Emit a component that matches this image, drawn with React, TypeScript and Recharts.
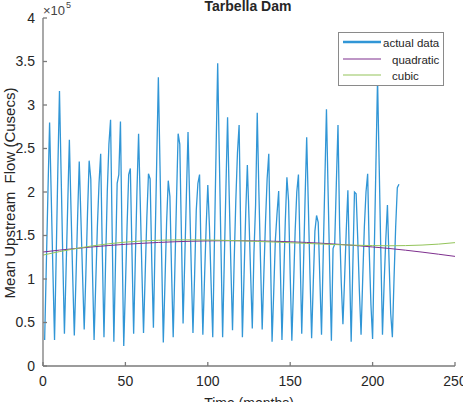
import { LineChart, Line, XAxis, YAxis, Legend } from "recharts"

// mean upstream flow, x10^5 cusecs, months 1..216
const flow = [
  0.30, 1.15, 2.00, 2.80, 1.95, 1.10,
  0.30, 1.25, 2.25, 3.16, 2.20, 1.25,
  0.37, 1.10, 1.85, 2.60, 1.80, 1.05,
  0.35, 1.00, 1.70, 2.35, 1.70, 1.05,
  0.42, 1.05, 1.75, 2.36, 2.15, 1.10,
  0.30, 0.95, 1.60, 2.10, 2.44, 1.30,
  0.33, 1.20, 2.00, 2.55, 2.83, 1.50,
  0.28, 1.20, 2.10, 2.20, 2.81, 1.40,
  0.23, 0.90, 1.60, 2.20, 2.27, 1.30,
  0.37, 1.20, 2.00, 2.67, 1.90, 1.10,
  0.38, 1.05, 1.70, 2.21, 2.15, 1.20,
  0.44, 1.40, 2.35, 3.32, 2.30, 1.25,
  0.27, 0.95, 1.65, 2.13, 1.95, 1.10,
  0.33, 1.10, 1.90, 2.67, 2.55, 1.50,
  0.49, 1.20, 1.95, 2.69, 1.90, 1.10,
  0.38, 1.05, 1.79, 2.10, 2.20, 1.20,
  0.36, 1.00, 1.60, 2.08, 1.60, 0.95,
  0.33, 1.40, 2.45, 3.48, 2.40, 1.35,
  0.33, 1.20, 2.05, 2.86, 1.95, 1.15,
  0.41, 1.20, 1.90, 2.45, 2.77, 1.50,
  0.33, 1.05, 1.75, 2.31, 1.70, 1.05,
  0.43, 1.30, 1.85, 2.91, 2.00, 1.20,
  0.42, 1.05, 1.65, 2.15, 2.44, 1.30,
  0.28, 0.85, 1.45, 1.75, 2.01, 1.15,
  0.30, 0.95, 1.65, 2.17, 1.90, 1.05,
  0.29, 0.90, 1.55, 2.00, 2.20, 1.30,
  0.37, 1.10, 1.90, 2.63, 1.85, 1.05,
  0.32, 0.95, 1.55, 1.73, 1.65, 1.00,
  0.36, 1.25, 2.10, 2.95, 2.00, 1.10,
  0.29, 1.35, 1.40, 2.10, 2.77, 1.60,
  0.95, 0.48, 1.00, 1.55, 2.02, 1.15,
  0.28, 1.15, 2.00, 1.98, 1.45, 0.85,
  0.36, 1.00, 1.60, 2.00, 2.21, 1.30,
  0.70, 0.31, 1.30, 2.30, 3.30, 2.30,
  1.30, 0.36, 0.95, 1.45, 1.85, 1.20,
  0.60, 0.33, 1.00, 1.60, 2.05, 2.09,
]

const fitMonths = [0, 10, 20, 30, 40, 50, 60, 70, 80, 90, 100, 110, 120, 130, 140, 150, 160, 170, 180, 190, 200, 210, 220, 230, 240, 250]
const quadratic = [1.310, 1.332, 1.351, 1.369, 1.385, 1.399, 1.410, 1.420, 1.428, 1.434, 1.438, 1.440, 1.440, 1.438, 1.434, 1.428, 1.420, 1.410, 1.398, 1.384, 1.368, 1.351, 1.331, 1.309, 1.285, 1.260]
const cubic = [1.275, 1.315, 1.350, 1.381, 1.405, 1.424, 1.437, 1.445, 1.449, 1.450, 1.448, 1.444, 1.439, 1.432, 1.425, 1.417, 1.409, 1.401, 1.394, 1.388, 1.384, 1.382, 1.384, 1.390, 1.401, 1.418]

const seriesNames = ["actual data", "quadratic", "cubic"]
const xTicks = [0, 50, 100, 150, 200, 250]
const yTicks = [0, 0.5, 1, 1.5, 2, 2.5, 3, 3.5, 4]

const actualData = flow.map((v, i) => ({ month: i + 1, value: v }))
const quadData = fitMonths.map((m, i) => ({ month: m, value: quadratic[i] }))
const cubicData = fitMonths.map((m, i) => ({ month: m, value: cubic[i] }))

const axisColor = "#7a7a7a"
const textColor = "#262626"
const tickFont = { fill: textColor, fontSize: 14, fontFamily: "'Liberation Sans Narrow', 'Arial Narrow', Arial, sans-serif" }

function LegendBox({ payload }: any) {
  // keep the plotting order, not the alphabetical one
  const items = [...(payload || [])].sort((a: any, b: any) => seriesNames.indexOf(a.value) - seriesNames.indexOf(b.value))
  return (
    <div
      style={{
        width: 104,
        height: 50,
        paddingTop: 2,
        border: "1px solid #8a8a8a",
        background: "#fff",
        fontFamily: "Arial, 'Liberation Sans', sans-serif",
        fontSize: 11.5,
        color: textColor,
      }}
    >
      {items.map((e: any) => (
        <div key={e.value} style={{ display: "flex", alignItems: "center", height: 16.5 }}>
          <svg width={44} height={8} style={{ flex: "none" }}>
            <line x1={4} x2={42} y1={3} y2={3} stroke={e.color} strokeWidth={e.value === "actual data" ? 2.5 : 1.2} />
          </svg>
          <span style={{ marginLeft: e.value === "actual data" ? 0 : 9, whiteSpace: "pre" }}>{e.value}</span>
        </div>
      ))}
    </div>
  )
}

export default function App() {
  return (
    <div style={{ position: "absolute", left: 0, top: 0, width: 463, height: 402, background: "#fff", overflow: "hidden" }}>
      <LineChart width={463} height={402} margin={{ top: 18, right: 8, bottom: 6, left: 0 }}>
        <XAxis
          dataKey="month"
          type="number"
          domain={[0, 250]}
          ticks={xTicks}
          interval={0}
          height={30}
          stroke={axisColor}
          strokeWidth={1.3}
          tickSize={-4}
          tickMargin={14}
          tick={tickFont}
          allowDataOverflow
        />
        <XAxis
          xAxisId="top"
          orientation="top"
          type="number"
          domain={[0, 250]}
          ticks={xTicks}
          interval={0}
          height={0}
          stroke={axisColor}
          strokeWidth={1.3}
          tickSize={-4}
          tick={false}
        />
        <YAxis
          type="number"
          domain={[0, 4]}
          ticks={yTicks}
          interval={0}
          width={43}
          stroke={axisColor}
          strokeWidth={1.3}
          tickSize={-4}
          tickMargin={12}
          tick={tickFont}
          allowDataOverflow
        />
        <YAxis
          yAxisId="right"
          orientation="right"
          type="number"
          domain={[0, 4]}
          ticks={yTicks}
          interval={0}
          width={0}
          stroke={axisColor}
          strokeWidth={1.3}
          tickSize={-4}
          tick={false}
        />
        <Legend
          layout="horizontal"
          verticalAlign="middle"
          align="center"
          content={<LegendBox />}
          wrapperStyle={{ top: 32, left: 338, width: 106, height: 53 }}
        />
        <Line
          data={actualData}
          dataKey="value"
          name="actual data"
          type="linear"
          stroke="#3196d6"
          strokeWidth={1.3}
          dot={false}
          isAnimationActive={false}
        />
        <Line
          data={quadData}
          dataKey="value"
          name="quadratic"
          type="linear"
          stroke="#7e2f8e"
          strokeWidth={1}
          dot={false}
          isAnimationActive={false}
        />
        <Line
          data={cubicData}
          dataKey="value"
          name="cubic"
          type="linear"
          stroke="#93c45a"
          strokeWidth={1}
          dot={false}
          isAnimationActive={false}
        />
      </LineChart>
      <svg width={463} height={402} style={{ position: "absolute", left: 0, top: 0, pointerEvents: "none" }}>
        <text x={248} y={11} textAnchor="middle" fontFamily="Arial, sans-serif" fontWeight="bold" fontSize={14} fill={textColor}>
          Tarbella Dam
        </text>
        <text x={43} y={15} fontFamily="Arial, sans-serif" fontSize={13} fill="#444">
          ×10
        </text>
        <text x={66} y={8} fontFamily="Arial, sans-serif" fontSize={9} fill="#444">
          5
        </text>
        <text
          x={11}
          y={193}
          textAnchor="middle"
          dominantBaseline="middle"
          transform="rotate(-90 11 193)"
          fontFamily="Arial, sans-serif"
          fontSize={15}
          fill={textColor}
          style={{ whiteSpace: "pre" }}
        >
          Mean Upstream  Flow (Cusecs)
        </text>
        <text x={249} y={408} textAnchor="middle" fontFamily="Arial, sans-serif" fontSize={14} fill={textColor}>
          Time (months)
        </text>
      </svg>
    </div>
  )
}
